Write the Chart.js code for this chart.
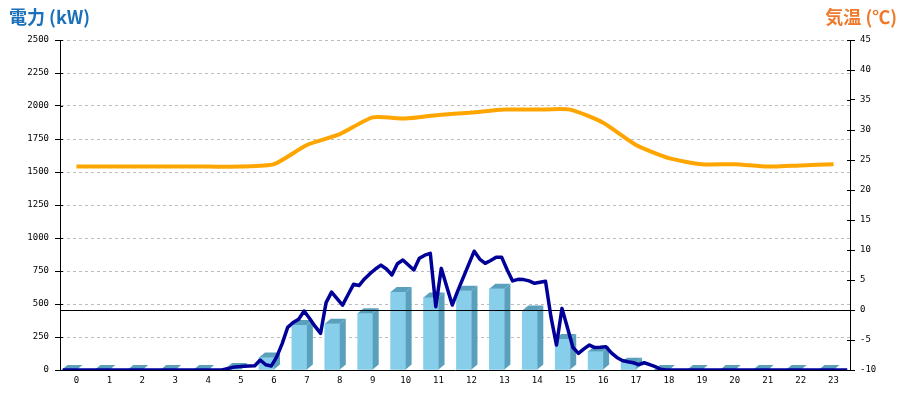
<!DOCTYPE html>
<html>
<head>
<meta charset="utf-8">
<script src="https://cdn.jsdelivr.net/npm/chart.js"></script>
<style>
  body { margin: 0; background: #fff; }
  canvas { display: block; }
</style>
</head>
<body>
<canvas id="powerChart" width="900" height="400"></canvas>
<script>
// hourly categories
const hours = ['0','1','2','3','4','5','6','7','8','9','10','11','12','13','14','15','16','17','18','19','20','21','22','23'];

// hourly power bars (kW)
const hourlyPower = [0, 0, 0, 0, 0, 15, 95, 340, 350, 430, 590, 550, 600, 615, 450, 235, 140, 55, 0, 0, 0, 0, 0, 0];

// temperature per hour (°C)
const temperature = [23.9, 23.9, 23.9, 23.9, 23.9, 23.9, 24.3, 27.5, 29.3, 32.1, 31.9, 32.5, 32.9, 33.4, 33.4, 33.4, 31.2, 27.5, 25.3, 24.3, 24.3, 23.9, 24.1, 24.3];

// 10 minute power (kW), 144 readings
const power10min = [
  0, 0, 0, 0, 0, 0,   0, 0, 0, 0, 0, 0,   0, 0, 0, 0, 0, 0,   0, 0, 0, 0, 0, 0,
  0, 0, 0, 0, 0, 0,   10, 20, 25, 28, 30, 32,   76, 40, 30, 100, 200, 323,   360, 385, 447, 390, 330, 278,
  510, 590, 540, 492, 570, 649,   640, 690, 730, 765, 795, 765,   720, 805, 833, 795, 758, 846,   870, 884, 480, 770, 630, 492,
  600, 700, 800, 900, 840, 808,   830, 855, 855, 760, 675, 687,   685, 675, 657, 665, 672, 400,   189, 467, 320, 170, 126, 160,
  189, 170, 172, 177, 130, 95,   72, 63, 55, 40, 55, 40,   25, 5, 0, 0, 0, 0,   0, 0, 0, 0, 0, 0,
  0, 0, 0, 0, 0, 0,   0, 0, 0, 0, 0, 0,   0, 0, 0, 0, 0, 0,   0, 0, 0, 0, 0, 0
];
const slots = power10min.map((v, i) => Math.floor(i / 6) + ':' + String((i % 6) * 10).padStart(2, '0'));

const tickFont = { family: 'DejaVu Sans Mono', size: 9 };
const barSide = '#5aa0bd';

// fake 3D faces for the bars + 0 degree line
const bar3d = {
  id: 'bar3d',
  afterDatasetDraw(chart, args) {
    if (args.index !== 0) return;
    const ctx = chart.ctx;
    const dx = 6, dy = 5;
    ctx.save();
    ctx.fillStyle = barSide;
    args.meta.data.forEach(bar => {
      const { x, y, base, width } = bar.getProps(['x', 'y', 'base', 'width'], true);
      const l = x - width / 2, r = x + width / 2;
      ctx.beginPath();
      ctx.moveTo(l, y); ctx.lineTo(l + dx, y - dy); ctx.lineTo(r + dx, y - dy); ctx.lineTo(r, y);
      ctx.closePath(); ctx.fill();
      ctx.beginPath();
      ctx.moveTo(r, y); ctx.lineTo(r + dx, y - dy); ctx.lineTo(r + dx, base - dy); ctx.lineTo(r, base);
      ctx.closePath(); ctx.fill();
    });
    const area = chart.chartArea;
    const y0 = Math.round(chart.scales.y1.getPixelForValue(0)) + 0.5;
    ctx.strokeStyle = '#000';
    ctx.lineWidth = 1;
    ctx.beginPath(); ctx.moveTo(area.left, y0); ctx.lineTo(area.right, y0); ctx.stroke();
    ctx.restore();
  },
  afterDraw(chart) {
    const ctx = chart.ctx;
    const area = chart.chartArea;
    ctx.save();
    // short tick marks inside the axes
    ctx.strokeStyle = '#000';
    ctx.lineWidth = 1;
    chart.scales.y.ticks.forEach(t => {
      const py = Math.round(chart.scales.y.getPixelForValue(t.value)) + 0.5;
      ctx.beginPath(); ctx.moveTo(area.left, py); ctx.lineTo(area.left + 3, py); ctx.stroke();
    });
    chart.scales.y1.ticks.forEach(t => {
      const py = Math.round(chart.scales.y1.getPixelForValue(t.value)) + 0.5;
      ctx.beginPath(); ctx.moveTo(area.right - 3, py); ctx.lineTo(area.right, py); ctx.stroke();
    });
    // axis titles
    ctx.font = 'bold 18px "Noto Sans CJK JP"';
    ctx.textBaseline = 'middle';
    ctx.fillStyle = '#1b70bb';
    ctx.textAlign = 'left';
    ctx.fillText('電力 (kW)', 9, 17);
    ctx.fillStyle = '#ee7a2c';
    ctx.textAlign = 'right';
    ctx.fillText('気温 (℃)', 897, 17);
    ctx.restore();
  }
};

const ctx = document.getElementById('powerChart').getContext('2d');

new Chart(ctx, {
  data: {
    datasets: [
      {
        type: 'bar',
        label: '電力量',
        data: hourlyPower,
        xAxisID: 'x',
        yAxisID: 'y',
        backgroundColor: '#87ceea',
        borderWidth: 0,
        barThickness: 15,
        order: 2
      },
      {
        type: 'line',
        label: '電力',
        data: power10min,
        xAxisID: 'xl',
        yAxisID: 'y',
        borderColor: '#000099',
        borderWidth: 3.5,
        borderJoinStyle: 'round',
        pointRadius: 0,
        tension: 0,
        order: 1
      },
      {
        type: 'line',
        label: '気温',
        data: temperature,
        xAxisID: 'x',
        yAxisID: 'y1',
        borderColor: '#ffa500',
        borderWidth: 4,
        pointRadius: 0,
        tension: 0.2,
        order: 0
      }
    ]
  },
  options: {
    responsive: false,
    animation: false,
    layout: { padding: { top: 40, left: 0, right: 0, bottom: 0 } },
    plugins: { legend: { display: false }, tooltip: { enabled: false } },
    scales: {
      x: {
        type: 'category',
        labels: hours,
        offset: true,
        grid: { display: false, drawTicks: false },
        border: { color: '#000' },
        ticks: { font: tickFont, color: '#000', padding: 5, maxRotation: 0, autoSkip: false },
        afterFit: s => { s.height = 30; }
      },
      xl: {
        type: 'category',
        labels: slots,
        offset: true,
        display: false
      },
      y: {
        position: 'left',
        min: 0,
        max: 2500,
        ticks: { stepSize: 250, font: tickFont, color: '#000', padding: 6, format: { useGrouping: false } },
        grid: { color: '#bdbdbd', tickColor: '#000', tickLength: 5 },
        border: { color: '#000', dash: [3, 3] },
        afterFit: s => { s.width = 60; }
      },
      y1: {
        position: 'right',
        min: -10,
        max: 45,
        ticks: { stepSize: 5, font: tickFont, color: '#000', padding: 5 },
        grid: { drawOnChartArea: false, tickColor: '#000', tickLength: 5 },
        border: { color: '#000' },
        afterFit: s => { s.width = 50; }
      }
    }
  },
  plugins: [bar3d]
});
</script>
</body>
</html>
